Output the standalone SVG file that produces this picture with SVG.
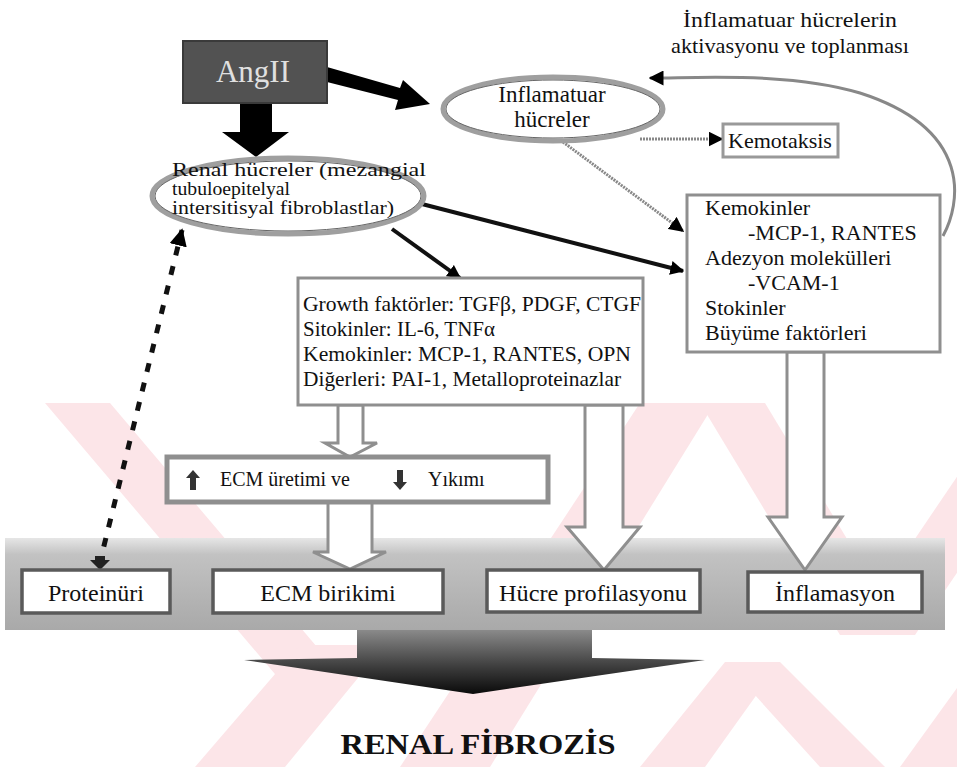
<svg xmlns="http://www.w3.org/2000/svg" width="957" height="767" viewBox="0 0 957 767" font-family="'Liberation Serif', 'Times New Roman', serif">
<defs>
<style>
text{font-family:'Liberation Serif','Times New Roman',serif;}
.t{fill:#111;}
.box{fill:#fff;stroke:#8f8f8f;stroke-width:3;}
.bbox{fill:#fff;stroke:#5a5a5a;stroke-width:3.5;}
.ell{fill:#fff;stroke:#9f9f9f;stroke-width:5;}
.ell2{fill:none;stroke:#666;stroke-width:1;}
.hollow{fill:#fff;stroke:#8f8f8f;stroke-width:3;stroke-linejoin:miter;}
.pink{fill:#fce5e8;}
</style>
<marker id="ah" viewBox="0 0 10 10" refX="9" refY="5" markerWidth="3.5" markerHeight="3.5" orient="auto" markerUnits="strokeWidth">
<path d="M0,0 L10,5 L0,10 z" fill="#000"/>
</marker>
<marker id="ah2" viewBox="0 0 10 10" refX="9" refY="5" markerWidth="5" markerHeight="5" orient="auto" markerUnits="strokeWidth">
<path d="M0,0 L10,5 L0,10 z" fill="#000"/>
</marker>
<linearGradient id="band" x1="0" y1="0" x2="0" y2="1">
<stop offset="0" stop-color="#e6e6e6"/>
<stop offset="0.18" stop-color="#c2c2c2"/>
<stop offset="1" stop-color="#a9a9a9"/>
</linearGradient>
<linearGradient id="fun" x1="0" y1="0" x2="0" y2="1">
<stop offset="0" stop-color="#8a8a8a"/>
<stop offset="0.6" stop-color="#3a3a3a"/>
<stop offset="1" stop-color="#0a0a0a"/>
</linearGradient>
<clipPath id="wm"><rect x="0" y="403" width="957" height="364"/></clipPath>
</defs>
<rect width="957" height="767" fill="#fff"/>
<g id="watermark" clip-path="url(#wm)">
<polygon class="pink" points="45,403 110,403 345,680 280,680"/>
<polygon class="pink" points="195,767 285,767 385,645 300,645"/>
<polygon class="pink" points="400,767 490,767 715,403 640,403"/>
<polygon class="pink" points="700,403 765,403 905,635 840,635"/>
<polygon class="pink" points="850,635 915,635 1040,450 975,450"/>
<polygon class="pink" points="640,767 705,767 780,662 725,662"/>
<polygon class="pink" points="725,662 780,662 885,767 820,767"/>
<polygon class="pink" points="900,767 970,767 1040,670 970,670"/>
</g>
<g id="band-bg">
<rect x="5" y="538" width="940" height="92" fill="url(#band)"/>
<polygon points="357,630 592,630 592,658 705,660 473,694 244,660 357,658" fill="url(#fun)"/>
</g>
<g id="title">
<text class="t" x="790" y="27" font-size="22" text-anchor="middle" textLength="214" lengthAdjust="spacingAndGlyphs">İnflamatuar hücrelerin</text>
<text class="t" x="790" y="53" font-size="22" text-anchor="middle" textLength="238" lengthAdjust="spacingAndGlyphs">aktivasyonu ve toplanması</text>
</g>
<g id="connectors">
<polygon points="240,103 272,103 272,132 289,132 256,157 222,132 240,132" fill="#000"/>
<polygon points="327,67 400,88 403,80 430,104 395,110 398,100 327,82" fill="#000"/>
<line x1="418" y1="203" x2="683" y2="271" stroke="#111" stroke-width="4" marker-end="url(#ah)"/>
<line x1="392" y1="229" x2="460" y2="278" stroke="#111" stroke-width="4" marker-end="url(#ah)"/>
<line x1="563" y1="142" x2="683" y2="231" stroke="#888" stroke-width="3" stroke-dasharray="2 1" marker-end="url(#ah2)"/>
<line x1="640" y1="139" x2="722" y2="139" stroke="#888" stroke-width="3" stroke-dasharray="2 1" marker-end="url(#ah2)"/>
<path d="M943,236 C960,205 975,130 860,93 C790,72 700,78 650,78" fill="none" stroke="#888" stroke-width="3" marker-end="url(#ah2)"/>
<path d="M99,566 Q140,400 182,230" fill="none" stroke="#111" stroke-width="5" stroke-dasharray="9 11" marker-end="url(#ah)"/>
<polygon points="95,556 105,556 105,560 110,560 100,570 90,560 95,560" fill="#222"/>
<polygon class="hollow" points="338,405 363,405 363,443 377,443 350,457 325,443 338,443"/>
<polygon class="hollow" points="328,502 372,502 372,552 386,552 350,569 313,552 328,552"/>
<polygon class="hollow" points="585,405 623,405 623,527 640,527 604,570 567,527 585,527"/>
<polygon class="hollow" points="787,352 824,352 824,517 842,517 805,570 768,517 787,517"/>
</g>
<g id="angII">
<rect x="183" y="41" width="144" height="62" fill="#525252" stroke="#3a3a3a" stroke-width="2"/>
<text x="253" y="82" font-size="31" text-anchor="middle" fill="#e0e0e0">AngII</text>
</g>
<g id="inflamatuar">
<ellipse class="ell" cx="553" cy="109" rx="110" ry="32"/>
<ellipse class="ell2" cx="553" cy="109" rx="107" ry="29"/>
<text class="t" x="552" y="102" font-size="23" text-anchor="middle">Inflamatuar</text>
<text class="t" x="552" y="127" font-size="23" text-anchor="middle">hücreler</text>
</g>
<g id="kemotaksis">
<rect x="723" y="124" width="115" height="33" fill="#fff" stroke="#999" stroke-width="3"/>
<text class="t" x="780" y="148" font-size="22" text-anchor="middle">Kemotaksis</text>
</g>
<g id="renal">
<ellipse class="ell" cx="288" cy="196" rx="136" ry="38"/>
<ellipse class="ell2" cx="288" cy="196" rx="133" ry="35"/>
<text class="t" x="172" y="176" font-size="19" textLength="254" lengthAdjust="spacingAndGlyphs">Renal hücreler (mezangial</text>
<text class="t" x="172" y="195" font-size="19" textLength="118" lengthAdjust="spacingAndGlyphs">tubuloepitelyal</text>
<text class="t" x="172" y="214" font-size="19" textLength="222" lengthAdjust="spacingAndGlyphs">intersitisyal fibroblastlar)</text>
</g>
<g id="growth">
<rect class="box" x="298" y="278" width="345" height="127"/>
<text class="t" x="303" y="311" font-size="21" textLength="338" lengthAdjust="spacingAndGlyphs">Growth faktörler: TGFβ, PDGF, CTGF</text>
<text class="t" x="303" y="336" font-size="21">Sitokinler: IL-6, TNFα</text>
<text class="t" x="303" y="361" font-size="21" textLength="328" lengthAdjust="spacingAndGlyphs">Kemokinler: MCP-1, RANTES, OPN</text>
<text class="t" x="303" y="386" font-size="21" textLength="318" lengthAdjust="spacingAndGlyphs">Diğerleri: PAI-1, Metalloproteinazlar</text>
</g>
<g id="kemokinler">
<rect class="box" x="687" y="195" width="253" height="157"/>
<text class="t" x="705" y="215" font-size="22">Kemokinler</text>
<text class="t" x="748" y="240" font-size="22">-MCP-1, RANTES</text>
<text class="t" x="705" y="265" font-size="22">Adezyon molekülleri</text>
<text class="t" x="748" y="290" font-size="22">-VCAM-1</text>
<text class="t" x="705" y="315" font-size="22">Stokinler</text>
<text class="t" x="705" y="340" font-size="22">Büyüme faktörleri</text>
</g>
<g id="ecm-uretim">
<rect x="167" y="457" width="381" height="45" fill="#fff" stroke="#8f8f8f" stroke-width="5"/>
<polygon points="193,470 200,478 196,478 196,490 190,490 190,478 186,478" fill="#333"/>
<polygon points="400,490 407,482 403,482 403,470 397,470 397,482 393,482" fill="#333"/>
<text class="t" x="220" y="486" font-size="20">ECM üretimi ve</text>
<text class="t" x="428" y="486" font-size="20">Yıkımı</text>
</g>
<g id="proteinuri">
<rect class="bbox" x="22" y="570" width="148" height="43"/>
<text class="t" x="96" y="601" font-size="24" text-anchor="middle">Proteinüri</text>
</g>
<g id="ecm-birikimi">
<rect class="bbox" x="213" y="570" width="230" height="43"/>
<text class="t" x="328" y="601" font-size="24" text-anchor="middle">ECM birikimi</text>
</g>
<g id="hucre">
<rect class="bbox" x="487" y="570" width="213" height="42"/>
<text class="t" x="593" y="601" font-size="24" text-anchor="middle" textLength="188" lengthAdjust="spacingAndGlyphs">Hücre profilasyonu</text>
</g>
<g id="inflamasyon">
<rect class="bbox" x="748" y="572" width="174" height="40"/>
<text class="t" x="835" y="601" font-size="24" text-anchor="middle">İnflamasyon</text>
</g>
<g id="renal-fibrozis">
<text class="t" x="478" y="754" font-size="29" font-weight="bold" text-anchor="middle" textLength="275" lengthAdjust="spacingAndGlyphs">RENAL FİBROZİS</text>
</g>
</svg>
